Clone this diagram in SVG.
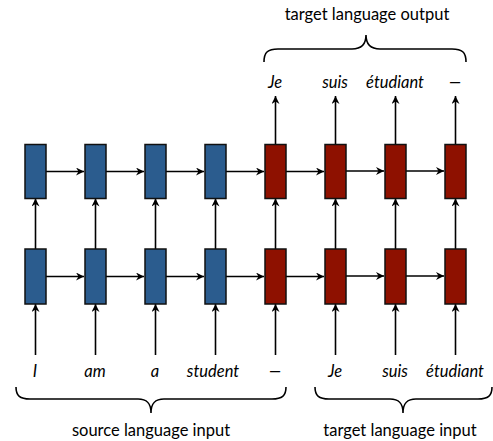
<svg xmlns="http://www.w3.org/2000/svg" width="493" height="441" viewBox="0 0 493 441">
<style>
.enc{fill:#2B5C8E;stroke:#111;stroke-width:1.5}
.dec{fill:#8E1100;stroke:#111;stroke-width:1.5}
.ar{stroke:#000;stroke-width:1.6;fill:none;marker-end:url(#ah)}
.br{stroke:#000;stroke-width:1.6;fill:none}
.w{font-family:Lato,"Open Sans",sans-serif;font-style:italic;font-size:16.5px;text-anchor:middle;fill:#000}
.lb{font-family:Lato,"Open Sans",sans-serif;font-size:16.5px;text-anchor:middle;fill:#000}
</style>
<defs>
<marker id="ah" markerWidth="10" markerHeight="10" refX="8" refY="4" orient="auto" markerUnits="userSpaceOnUse">
<path d="M0,0 L8,4 L0,8 L2.5,4 z" fill="#000"/>
</marker>
</defs>
<g id="connectors">
<path class="ar" d="M46,171.5 H84"/>
<path class="ar" d="M106,171.5 H144"/>
<path class="ar" d="M166,171.5 H204"/>
<path class="ar" d="M226,171.5 H264"/>
<path class="ar" d="M286,171.5 H324"/>
<path class="ar" d="M346,171 H384"/>
<path class="ar" d="M406,171 H444"/>
<path class="ar" d="M46,276.5 H84"/>
<path class="ar" d="M106,276.5 H144"/>
<path class="ar" d="M166,276.5 H204"/>
<path class="ar" d="M226,276.5 H264"/>
<path class="ar" d="M286,276.5 H324"/>
<path class="ar" d="M346,276 H384"/>
<path class="ar" d="M406,276 H444"/>
<path class="ar" d="M35.5,249 V198.5"/>
<path class="ar" d="M95.5,249 V198.5"/>
<path class="ar" d="M155.5,249 V198.5"/>
<path class="ar" d="M215.5,249 V198.5"/>
<path class="ar" d="M275.5,249 V198.5"/>
<path class="ar" d="M335.5,249 V198.5"/>
<path class="ar" d="M395.5,249 V198.5"/>
<path class="ar" d="M455.5,249 V198.5"/>
<path class="ar" d="M35.5,355 V304"/>
<path class="ar" d="M95.5,355 V304"/>
<path class="ar" d="M155.5,355 V304"/>
<path class="ar" d="M215.5,355 V304"/>
<path class="ar" d="M275.5,355 V304"/>
<path class="ar" d="M335.5,355 V304"/>
<path class="ar" d="M395.5,355 V304"/>
<path class="ar" d="M455.5,355 V304"/>
<path class="ar" d="M275.5,144.5 V96"/>
<path class="ar" d="M335.5,144.5 V96"/>
<path class="ar" d="M395.5,144.5 V96"/>
<path class="ar" d="M455.5,144.5 V96"/>
</g>
<g id="enc1"><rect class="enc" x="25" y="144.5" width="21" height="54"/></g>
<g id="enc2"><rect class="enc" x="85" y="144.5" width="21" height="54"/></g>
<g id="enc3"><rect class="enc" x="145" y="144.5" width="21" height="54"/></g>
<g id="enc4"><rect class="enc" x="205" y="144.5" width="21" height="54"/></g>
<g id="dec1"><rect class="dec" x="265" y="144.5" width="21" height="54"/></g>
<g id="dec2"><rect class="dec" x="325" y="144.5" width="21" height="54"/></g>
<g id="dec3"><rect class="dec" x="385" y="144.5" width="21" height="54"/></g>
<g id="dec4"><rect class="dec" x="445" y="144.5" width="21" height="54"/></g>
<g id="enc5"><rect class="enc" x="25" y="249" width="21" height="55"/></g>
<g id="enc6"><rect class="enc" x="85" y="249" width="21" height="55"/></g>
<g id="enc7"><rect class="enc" x="145" y="249" width="21" height="55"/></g>
<g id="enc8"><rect class="enc" x="205" y="249" width="21" height="55"/></g>
<g id="dec5"><rect class="dec" x="265" y="249" width="21" height="55"/></g>
<g id="dec6"><rect class="dec" x="325" y="249" width="21" height="55"/></g>
<g id="dec7"><rect class="dec" x="385" y="249" width="21" height="55"/></g>
<g id="dec8"><rect class="dec" x="445" y="249" width="21" height="55"/></g>
<g id="outputs">
<text class="w" x="275" y="88">Je</text>
<text class="w" x="335" y="88">suis</text>
<text class="w" x="395" y="88">étudiant</text>
<text class="w" x="455" y="88">—</text>
</g>
<g id="inputs">
<text class="w" x="35" y="377">I</text>
<text class="w" x="95" y="377">am</text>
<text class="w" x="155" y="377">a</text>
<text class="w" x="213" y="377">student</text>
<text class="w" x="275" y="377">—</text>
<text class="w" x="335" y="377">Je</text>
<text class="w" x="395" y="377">suis</text>
<text class="w" x="455" y="377">étudiant</text>
</g>
<g id="braces">
<path class="br" d="M264,62 C264,52 268,49 278,49 L352,49 C360,49 366,46 366,35 C366,46 372,49 380,49 L452,49 C462,49 466,52 466,62"/>
<path class="br" d="M16,387 C16,396 20,399 30,399 L138,399 C146,399 151,402 151,413 C151,402 156,399 164,399 L272,399 C282,399 286,396 286,387"/>
<path class="br" d="M315,387 C315,396 319,399 329,399 L390,399 C398,399 403,402 403,413 C403,402 408,399 416,399 L478,399 C488,399 492,396 492,387"/>
<text class="lb" x="367" y="20">target language output</text>
<text class="lb" x="151" y="436">source language input</text>
<text class="lb" x="400" y="436">target language input</text>
</g>
</svg>
